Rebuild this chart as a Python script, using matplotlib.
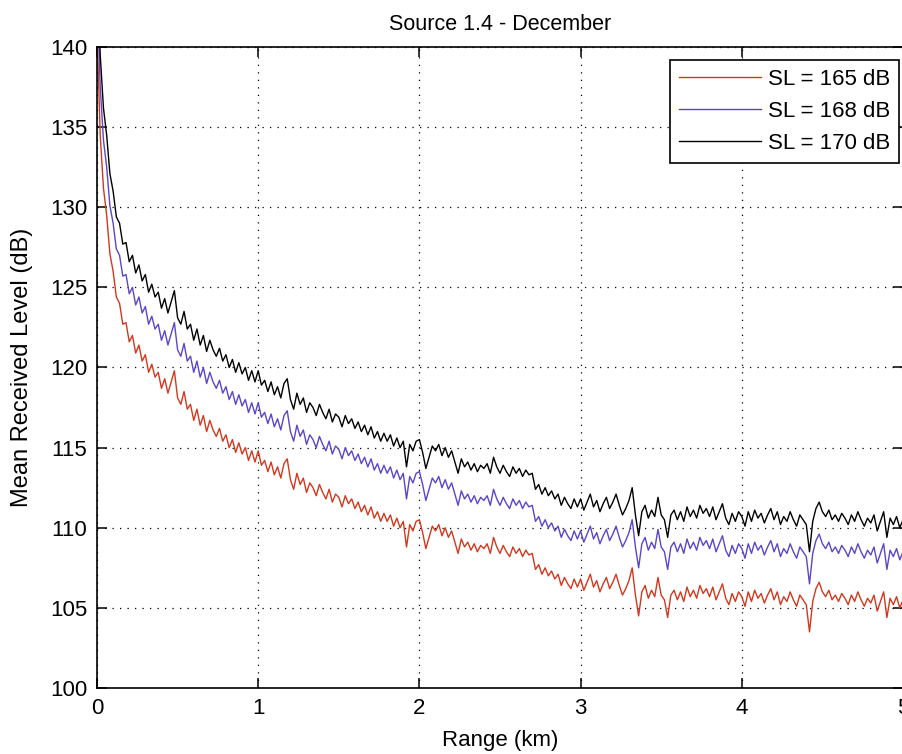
import matplotlib.pyplot as plt
import numpy as np

plt.rcParams['font.family'] = ['Liberation Sans', 'DejaVu Sans']

# source levels for the three runs (dB)
source_levels = [165, 168, 170]
series_labels = ['SL = 165 dB', 'SL = 168 dB', 'SL = 170 dB']
series_colors = ['#d2381e', '#5a46c8', '#000000']

# transmission loss (dB), every 0.02 km from 0 to 5 km
transmission_loss = [
    24.0, 30.5, 33.8, 35.5, 37.9, 39.0, 40.6, 41.0, 42.3, 42.2,
    43.4, 43.0, 44.1, 43.6, 44.6, 44.2, 45.3, 44.8, 45.6, 45.3,
    46.3, 45.7, 46.6, 45.9, 45.2, 46.9, 47.3, 46.5, 47.6, 47.3,
    48.3, 47.6, 48.6, 48.0, 49.0, 48.3, 48.9, 49.3, 48.8, 49.6,
    49.2, 50.0, 49.5, 50.3, 49.7, 50.4, 50.0, 50.8, 50.2, 50.9,
    50.2, 51.1, 50.8, 51.5, 50.9, 51.7, 51.2, 51.9, 51.0, 50.7,
    52.0, 52.6, 51.6, 52.3, 51.9, 52.8, 52.2, 52.5, 53.0, 52.3,
    52.8, 53.2, 52.6, 53.4, 52.9, 53.1, 53.7, 53.0, 53.5, 53.2,
    53.8, 53.4, 54.0, 53.6, 54.2, 53.7, 54.4, 54.0, 54.6, 54.1,
    54.6, 54.2, 54.9, 54.4, 55.0, 54.6, 56.2, 54.8, 55.2, 54.6,
    54.5, 55.3, 56.3, 55.6, 54.9, 55.2, 54.8, 55.5, 55.0, 55.6,
    55.2, 55.9, 56.6, 55.7, 56.2, 55.9, 56.4, 56.0, 56.5, 56.1,
    56.3, 56.0, 56.6, 55.6, 56.2, 56.6, 56.1, 56.5, 56.8, 56.2,
    56.6, 56.3, 56.8, 56.4, 56.7, 56.6, 57.6, 57.3, 57.9, 57.5,
    58.0, 57.7, 58.2, 57.9, 58.6, 58.1, 58.5, 58.8, 58.2, 58.7,
    58.2, 58.9, 58.4, 57.9, 58.7, 58.3, 59.0, 58.5, 58.1, 58.8,
    58.4, 57.9, 58.6, 59.2, 58.8, 58.3, 57.5, 59.2, 60.5, 59.0,
    58.6, 59.4, 58.9, 59.3, 58.1, 59.2, 59.5, 60.6, 59.2, 58.9,
    59.5, 59.0, 59.6, 58.7, 59.3, 58.9, 59.4, 58.6, 59.1, 58.8,
    59.3, 58.7, 59.5, 59.0, 58.5, 59.4, 59.8, 59.1, 59.6, 59.0,
    59.3, 59.9, 59.0, 59.6, 58.9, 59.4, 59.1, 59.7, 59.2, 58.8,
    59.5, 59.0, 59.8, 59.3, 59.6, 59.0, 59.5, 59.9, 59.2, 59.5,
    59.8, 61.5, 59.6, 58.8, 58.4, 59.0, 59.3, 58.9, 59.5, 59.2,
    59.6, 59.1, 59.4, 59.8, 59.2, 59.6, 59.0, 59.5, 59.9, 59.4,
    59.7, 59.2, 60.2, 59.6, 59.0, 60.6, 59.4, 59.8, 59.3, 60.0,
    59.5,
]
range_km = np.linspace(0, 5, len(transmission_loss))
tl = np.array(transmission_loss)

fig = plt.figure(figsize=(9.02, 7.54), dpi=100)
ax = fig.add_axes([97 / 902, 66 / 754, 806 / 902, 641 / 754])

for sl, lab, col in zip(source_levels, series_labels, series_colors):
    ax.plot(range_km, sl - tl, color=col, lw=1.0, label=lab)

ax.set_xlim(0, 5)
ax.set_ylim(100, 140)
ax.set_xticks([0, 1, 2, 3, 4, 5])
ax.set_yticks(np.arange(100, 141, 5))
ax.grid(True, color='black', linestyle=(0, (1, 5)), linewidth=0.9)
ax.tick_params(direction='in', length=7, width=1.1, top=True, right=True,
               labelsize=16, pad=7)
for s in ax.spines.values():
    s.set_linewidth(1.2)

ax.set_title('Source 1.4 - December', fontsize=15.5, pad=12)
ax.set_xlabel('Range (km)', fontsize=16, labelpad=8)
ax.set_ylabel('Mean Received Level (dB)', fontsize=17, labelpad=12)

leg = ax.legend(loc='upper right', bbox_to_anchor=(0.995, 0.98), fontsize=16,
                frameon=True, fancybox=False, framealpha=1, edgecolor='black',
                handlelength=3.7, handletextpad=0.3, labelspacing=0.5,
                borderpad=0.4, borderaxespad=0)
leg.get_frame().set_linewidth(1.2)

fig.savefig('out.png', dpi=100)
